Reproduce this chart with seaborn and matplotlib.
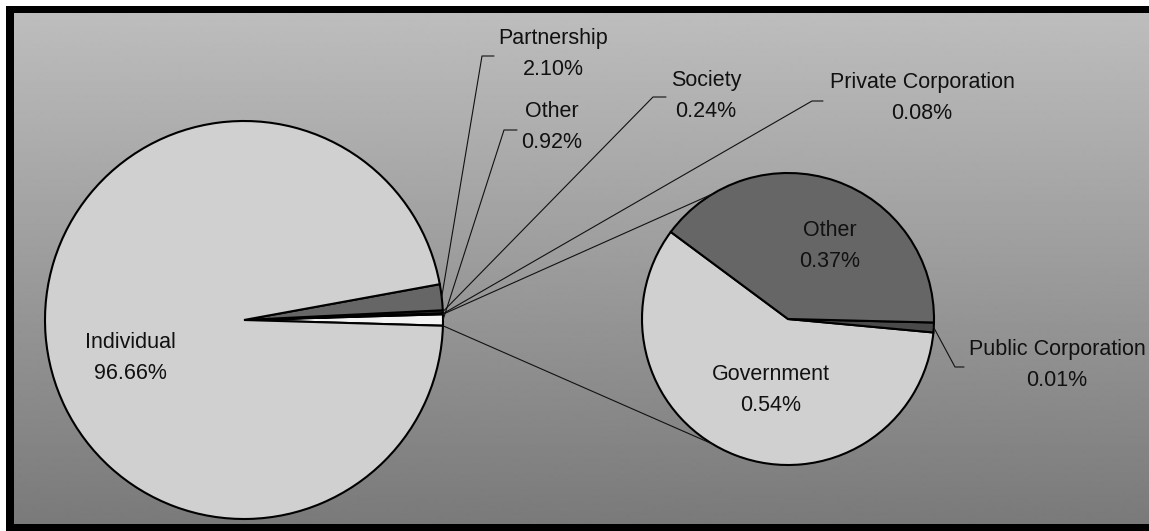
import numpy as np
import matplotlib
matplotlib.use("Agg")
import matplotlib.pyplot as plt
from matplotlib.patches import Rectangle
import seaborn as sns

# Ownership shares (%) shown in the main pie; "Other" is broken out in the second pie
main_labels = ["Other", "Private Corporation", "Society", "Partnership", "Individual"]
main_values = [0.92, 0.08, 0.24, 2.10, 96.66]
main_colors = ["#f4f4f4", "#3a3a3a", "#3a3a3a", "#666666", "#d0d0d0"]

# Breakdown of the combined "Other" slice
sub_labels = ["Government", "Public Corporation", "Other"]
sub_values = [0.54, 0.01, 0.37]
sub_colors = ["#d0d0d0", "#4a4a4a", "#666666"]

sns.set_theme(style="white")
plt.rcParams["font.family"] = ["Liberation Sans", "DejaVu Sans"]

W, H = 1149, 531
fig = plt.figure(figsize=(W / 100, H / 100), dpi=100)
fig.patch.set_facecolor("white")
ax = fig.add_axes([0, 0, 1, 1])


def Y(y):
    """Convert a top-down pixel row into the axes' upward y coordinate."""
    return H - y


# Frame and vertical grey gradient
ax.add_patch(Rectangle((6, 0), W, Y(6), facecolor="black", edgecolor="none", zorder=0))
grad = np.linspace(189, 122, 256).reshape(-1, 1)
ax.imshow(grad, cmap="gray", vmin=0, vmax=255, aspect="auto",
          extent=[14, W, Y(524), Y(13)], zorder=0.5, interpolation="bilinear")

edge = dict(edgecolor="black", linewidth=1.5)

# Main pie, rotated so the broken-out slice is centred on the right
main_c = (244, Y(320))
main_r = 199
start_main = -360 * main_values[0] / sum(main_values) / 2
wedges_main, _ = ax.pie(main_values, colors=main_colors, startangle=start_main,
                        counterclock=True, center=main_c, radius=main_r,
                        wedgeprops=edge, frame=True)

# Second pie with the breakdown
sub_c = (788, Y(319))
sub_r = 146
wedges_sub, _ = ax.pie(sub_values, colors=sub_colors, startangle=143.4,
                       counterclock=True, center=sub_c, radius=sub_r,
                       wedgeprops=edge, frame=True)


def edge_point(center, r, ang):
    a = np.deg2rad(ang)
    return center[0] + r * np.cos(a), center[1] + r * np.sin(a)


# Series lines joining the "Other" slice to the second pie
w_other = wedges_main[0]
for t_main, t_sub in [(w_other.theta2, 121), (w_other.theta1, -121)]:
    p0 = edge_point(main_c, main_r, t_main)
    p1 = edge_point(sub_c, sub_r, t_sub)
    ax.plot([p0[0], p1[0]], [p0[1], p1[1]], color="#111111", lw=0.8, zorder=1)

txt = dict(fontsize=15.5, color="#111111", ha="center", va="center", zorder=5)


def two_line(label, value, cx, cy):
    ax.text(cx, Y(cy - 15.5), label, **txt)
    ax.text(cx, Y(cy + 15.5), f"{value:.2f}%", **txt)


def leader(wedge, center, r, elbow, end):
    mid = (wedge.theta1 + wedge.theta2) / 2
    p0 = edge_point(center, r, mid)
    ax.plot([p0[0], elbow[0], end], [p0[1], Y(elbow[1]), Y(elbow[1])],
            color="#111111", lw=0.8, zorder=4)


# Labels on the main pie
lab_pos_main = {
    "Individual": (130, 358),
    "Partnership": (553, 54),
    "Other": (552, 127),
    "Society": (706, 96),
    "Private Corporation": (922, 98),
}
elbows_main = {
    "Partnership": ((482, 56), 494),
    "Other": ((504, 130), 517),
    "Society": ((653, 97), 666),
    "Private Corporation": ((812, 101), 823),
}
for w, lab, val in zip(wedges_main, main_labels, main_values):
    two_line(lab, val, *lab_pos_main[lab])
    if lab in elbows_main:
        el, end = elbows_main[lab]
        leader(w, main_c, main_r, el, end)

# Labels on the second pie
lab_pos_sub = {
    "Government": (771, 390),
    "Public Corporation": (1057, 365),
    "Other": (830, 246),
}
for w, lab, val in zip(wedges_sub, sub_labels, sub_values):
    two_line(lab, val, *lab_pos_sub[lab])
    if lab == "Public Corporation":
        leader(w, sub_c, sub_r, (955, 367), 964)

ax.set_xlim(0, W)
ax.set_ylim(0, H)
ax.set_axis_off()

fig.savefig("out.png", dpi=100, facecolor="white")
